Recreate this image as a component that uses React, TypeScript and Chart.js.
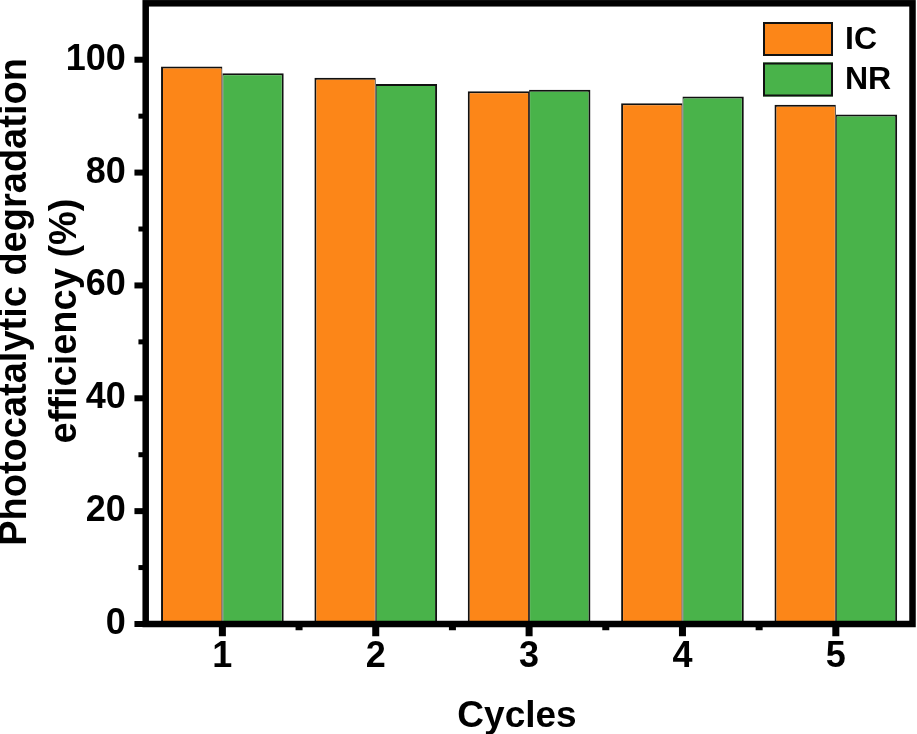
import React, { useEffect, useRef } from "react";
import { Chart, registerables } from "chart.js";

Chart.register(...registerables);

const categories = ["1", "2", "3", "4", "5"];
const seriesNames = ["IC", "NR"];
const icValues = [98.8, 96.8, 94.4, 92.3, 92.0];
const nrValues = [97.6, 95.7, 94.7, 93.5, 90.3];
const yMajorTicks = [0, 20, 40, 60, 80, 100];
const yMinorTicks = [10, 30, 50, 70, 90];
const xTitle = "Cycles";
const yTitle = ["Photocatalytic degradation", "efficiency (%)"];

const ORANGE = "#FC8618";
const GREEN = "#49B34A";
const FONT = "'Liberation Sans', Arial, sans-serif";

const framePlugin = {
  id: "frameTicksLegend",
  afterDraw(chart: any) {
    const { ctx, chartArea } = chart;
    const { left, right, top, bottom } = chartArea;
    const xs = chart.scales.x;
    const ys = chart.scales.y;
    const lw = 6.5;
    ctx.save();
    ctx.strokeStyle = "#000";
    ctx.lineWidth = lw;
    ctx.strokeRect(left, top, right - left, bottom - top);
    ctx.fillStyle = "#000";
    for (const v of yMajorTicks) {
      const y = ys.getPixelForValue(v);
      ctx.fillRect(left - lw / 2 - 8, y - 3, 8 + lw / 2, 6);
    }
    for (const v of yMinorTicks) {
      const y = ys.getPixelForValue(v);
      ctx.fillRect(left - lw / 2 - 4, y - 2.5, 4 + lw / 2, 5);
    }
    const n = categories.length;
    for (let i = 0; i < n; i++) {
      const x = xs.getPixelForValue(i);
      ctx.fillRect(x - 3.5, bottom, 7, lw / 2 + 9);
    }
    for (let i = 0; i < n - 1; i++) {
      const x = (xs.getPixelForValue(i) + xs.getPixelForValue(i + 1)) / 2;
      ctx.fillRect(x - 3.5, bottom, 7, lw / 2 + 3);
    }
    // axis titles
    ctx.fillStyle = "#000";
    ctx.textBaseline = "middle";
    ctx.textAlign = "center";
    ctx.font = `bold 37px ${FONT}`;
    ctx.fillText(xTitle, 517, 717);
    ctx.font = `bold 38px ${FONT}`;
    const titleX = [16, 66];
    const titleY = [302, 321];
    yTitle.forEach((line, i) => {
      ctx.save();
      ctx.translate(titleX[i], titleY[i]);
      ctx.rotate(-Math.PI / 2);
      ctx.fillText(line, 0, 0);
      ctx.restore();
    });
    // legend
    const boxX = 763;
    const boxY0 = 22;
    const boxW = 70;
    const boxH = 34;
    const gap = 40.5;
    ctx.font = `bold 32px ${FONT}`;
    ctx.textBaseline = "middle";
    ctx.textAlign = "left";
    chart.data.datasets.forEach((ds: any, i: number) => {
      const by = boxY0 + i * gap;
      ctx.fillStyle = ds.backgroundColor;
      ctx.fillRect(boxX, by, boxW, boxH);
      ctx.lineWidth = 2;
      ctx.strokeStyle = "#111";
      ctx.strokeRect(boxX + 1, by + 1, boxW - 2, boxH - 2);
      ctx.fillStyle = "#000";
      ctx.fillText(ds.label, 845, by + boxH / 2 + 1);
    });
    ctx.restore();
  },
};

export default function App() {
  const ref = useRef<HTMLCanvasElement | null>(null);
  useEffect(() => {
    if (!ref.current) return;
    const chart = new Chart(ref.current, {
      type: "bar",
      data: {
        labels: categories,
        datasets: [
          {
            label: seriesNames[0],
            data: icValues,
            backgroundColor: ORANGE,
            borderColor: "#111",
            borderWidth: { top: 2, left: 2, right: 1, bottom: 0 },
            borderSkipped: false,
            categoryPercentage: 0.8,
            barPercentage: 1.0,
          },
          {
            label: seriesNames[1],
            data: nrValues,
            backgroundColor: GREEN,
            borderColor: "#111",
            borderWidth: { top: 2, left: 1, right: 2, bottom: 0 },
            borderSkipped: false,
            categoryPercentage: 0.8,
            barPercentage: 1.0,
          },
        ],
      },
      options: {
        responsive: false,
        animation: false,
        devicePixelRatio: 1,
        layout: { padding: { top: 3.3, right: 4.5, left: 0, bottom: 0 } },
        plugins: {
          legend: { display: false },
          tooltip: { enabled: false },
        },
        scales: {
          x: {
            type: "category",
            offset: true,
            grid: { display: false, drawTicks: false },
            border: { display: false },
            ticks: {
              color: "#000",
              padding: 11,
              font: { family: FONT, size: 36, weight: "bold" },
            },
            afterFit: (s: any) => {
              s.height = 110;
              s.paddingLeft = 0;
              s.paddingRight = 0;
            },
          },
          y: {
            min: 0,
            max: 110,
            grid: { display: false, drawTicks: false },
            border: { display: false },
            ticks: {
              stepSize: 10,
              color: "#000",
              padding: 20,
              font: { family: FONT, size: 36, weight: "bold" },
              callback: (v: any) => (Number(v) % 20 === 0 ? String(v) : ""),
            },
            afterFit: (s: any) => {
              s.width = 145.7;
              s.paddingTop = 0;
              s.paddingBottom = 0;
            },
          },
        },
      },
      plugins: [framePlugin],
    } as any);
    return () => chart.destroy();
  }, []);
  return (
    <div style={{ position: "absolute", left: 0, top: 0, width: 917, height: 734, background: "#fff" }}>
      <canvas ref={ref} width={917} height={734} style={{ display: "block" }} />
    </div>
  );
}
